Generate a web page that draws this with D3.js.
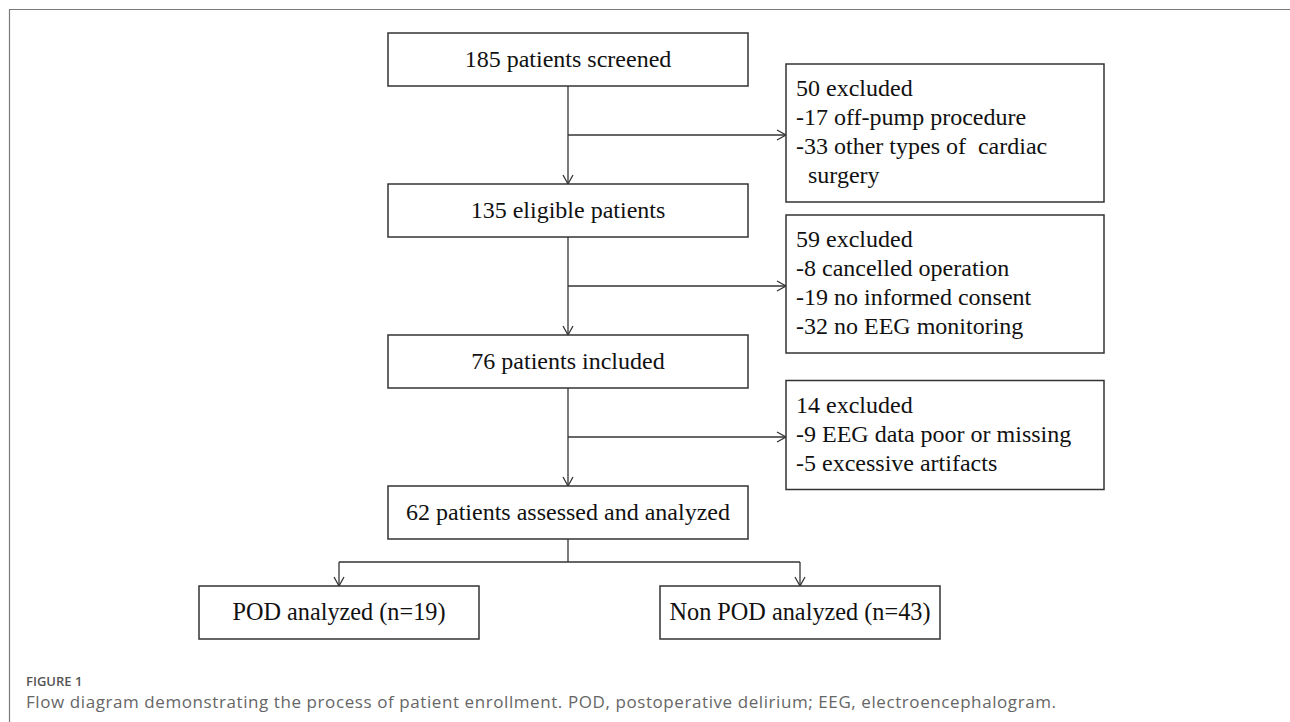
<!DOCTYPE html>
<html>
<head>
<meta charset="utf-8">
<script src="https://cdn.jsdelivr.net/npm/d3@7"></script>
<style>
  body { margin: 0; background: #fff; }
  svg { display: block; }
</style>
</head>
<body>
<div id="scene"></div>
<script>
// flow content
var steps = ["185 patients screened", "135 eligible patients", "76 patients included", "62 patients assessed and analyzed"];
var excluded = [
  ["50 excluded", "-17 off-pump procedure", "-33 other types of\u00a0\u00a0cardiac", "\u00a0\u00a0surgery"],
  ["59 excluded", "-8 cancelled operation", "-19 no informed consent", "-32 no EEG monitoring"],
  ["14 excluded", "-9 EEG data poor or missing", "-5 excessive artifacts"]
];
var outcomes = ["POD analyzed (n=19)", "Non POD analyzed (n=43)"];
var outcomeWidths = [213, 261];
var captionTitle = "FIGURE 1";
var captionText = "Flow diagram demonstrating the process of patient enrollment. POD, postoperative delirium; EEG, electroencephalogram.";

var ctx = {
  w: 1290,
  h: 722,
  boxW: 360,
  boxH: 53,
  sideX: 786,
  sideW: 318,
  lineH: 29,
  outW: 280,
  outTop: 586,
  splitY: 562,
  ink: "#333",
  serif: "'Liberation Serif', 'Times New Roman', serif"
};

var svg = d3.select("#scene").append("svg")
  .attr("width", ctx.w)
  .attr("height", ctx.h);

// frame lines (top + left)
svg.append("path")
  .attr("d", "M9.5," + ctx.h + " V9.5 H" + ctx.w)
  .attr("fill", "none")
  .attr("stroke", "#7a7a7a")
  .attr("stroke-width", 1.2);

var cx = 568;
var y = d3.scaleLinear().domain([0, 1]).range([33, 184]);

var arrowDown = function(x, yTip) {
  return "M" + (x - 5) + "," + (yTip - 9) + " L" + x + "," + yTip + " L" + (x + 5) + "," + (yTip - 9);
};
var arrowRight = function(xTip, yy) {
  return "M" + (xTip - 9) + "," + (yy - 5) + " L" + xTip + "," + yy + " L" + (xTip - 9) + "," + (yy + 5);
};

var links = svg.append("g")
  .attr("fill", "none")
  .attr("stroke", ctx.ink)
  .attr("stroke-width", 1.3);

// main column boxes
var main = svg.append("g");
steps.forEach(function(s, i) {
  main.append("rect")
    .attr("x", cx - ctx.boxW / 2)
    .attr("y", y(i))
    .attr("width", ctx.boxW)
    .attr("height", ctx.boxH)
    .attr("fill", "#fff")
    .attr("stroke", ctx.ink)
    .attr("stroke-width", 1.5);
  main.append("text")
    .attr("x", cx)
    .attr("y", y(i) + 34)
    .attr("text-anchor", "middle")
    .style("font-family", ctx.serif)
    .style("font-size", "24px")
    .attr("fill", "#111")
    .text(s);
});

// vertical links + side exclusion boxes
excluded.forEach(function(lines, i) {
  var y0 = y(i) + ctx.boxH;
  var y1 = y(i + 1);
  var by = (y0 + y1) / 2;
  links.append("line").attr("x1", cx).attr("x2", cx).attr("y1", y0).attr("y2", y1);
  links.append("path").attr("d", arrowDown(cx, y1));
  links.append("line").attr("x1", cx).attr("x2", ctx.sideX).attr("y1", by).attr("y2", by);
  links.append("path").attr("d", arrowRight(ctx.sideX, by));

  var h = lines.length * ctx.lineH + 22;
  var top = by - h / 2 - 2;
  svg.append("rect")
    .attr("x", ctx.sideX)
    .attr("y", top)
    .attr("width", ctx.sideW)
    .attr("height", h)
    .attr("fill", "#fff")
    .attr("stroke", ctx.ink)
    .attr("stroke-width", 1.5);
  svg.append("g").selectAll("text")
    .data(lines)
    .enter()
    .append("text")
    .attr("x", ctx.sideX + 10)
    .attr("y", function(d, j) { return top + 32 + j * ctx.lineH; })
    .style("font-family", ctx.serif)
    .style("font-size", "24px")
    .style("white-space", "pre")
    .attr("fill", "#111")
    .text(function(d) { return d; });
});

// split to outcomes
var outX = d3.scalePoint().domain(outcomes).range([339, 800]);
var lastBottom = y(steps.length - 1) + ctx.boxH;
links.append("line").attr("x1", cx).attr("x2", cx).attr("y1", lastBottom).attr("y2", ctx.splitY);
links.append("line").attr("x1", outX(outcomes[0])).attr("x2", outX(outcomes[1])).attr("y1", ctx.splitY).attr("y2", ctx.splitY);

outcomes.forEach(function(o, i) {
  var x = outX(o);
  links.append("line").attr("x1", x).attr("x2", x).attr("y1", ctx.splitY).attr("y2", ctx.outTop);
  links.append("path").attr("d", arrowDown(x, ctx.outTop));
  svg.append("rect")
    .attr("x", x - ctx.outW / 2)
    .attr("y", ctx.outTop)
    .attr("width", ctx.outW)
    .attr("height", ctx.boxH)
    .attr("fill", "#fff")
    .attr("stroke", ctx.ink)
    .attr("stroke-width", 1.5);
  svg.append("text")
    .attr("x", x)
    .attr("y", ctx.outTop + 34)
    .attr("text-anchor", "middle")
    .attr("textLength", outcomeWidths[i])
    .attr("lengthAdjust", "spacingAndGlyphs")
    .style("font-family", ctx.serif)
    .style("font-size", "26px")
    .attr("fill", "#111")
    .text(o);
});

// caption
svg.append("text")
  .attr("x", 26)
  .attr("y", 686)
  .style("font-family", "'Open Sans', sans-serif")
  .style("font-size", "13px")
  .style("font-weight", 600)
  .attr("fill", "#555")
  .text(captionTitle);
svg.append("text")
  .attr("x", 26)
  .attr("y", 708)
  .attr("textLength", 1030)
  .attr("lengthAdjust", "spacing")
  .style("font-family", "'Open Sans', sans-serif")
  .style("font-size", "17px")
  .attr("fill", "#666")
  .text(captionText);
</script>
</body>
</html>
